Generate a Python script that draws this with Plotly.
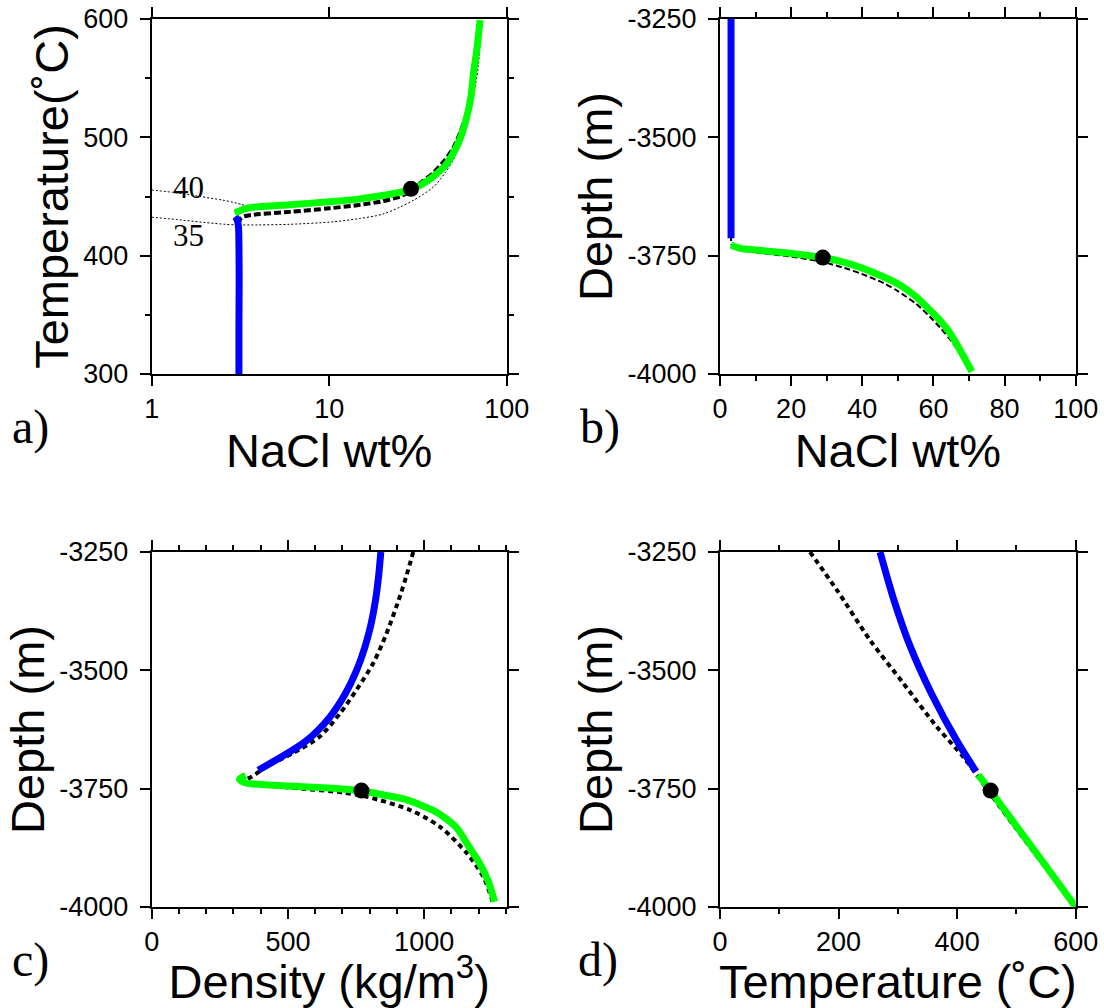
import plotly.graph_objects as go

# ---------------- data ----------------
# panel a: NaCl wt% (log) vs Temperature
a_blue_nacl = [3.10, 3.10, 3.11, 3.10, 3.08, 3.02, 2.95]
a_blue_temp = [300, 340, 380, 410, 425, 431, 433]
a_green_nacl = [2.94, 3.43, 6, 10, 15, 20.2, 25, 28.9, 33, 38.6, 45, 50, 55, 59.5, 63, 65, 68, 70.8]
a_green_temp = [436, 440, 443, 445.5, 448, 451, 453.5, 456, 460, 467, 476, 486.5, 500, 517, 535, 554, 575, 599]
a_dash_nacl = [3.1, 3.1, 3.1, 3.1, 3.2, 3.5, 6, 10, 15, 20, 25, 28.9, 33, 38.6, 45, 50, 55, 60, 65, 70]
a_dash_temp = [300, 350, 400, 428, 432, 434, 437, 440, 443, 446, 450, 455, 462, 470, 481, 491, 505, 522, 552, 598]
a_c40_nacl = [1.0, 1.4, 1.87, 2.5, 3.0, 3.43]
a_c40_temp = [455.5, 453, 450, 447, 444.5, 442]
a_c35_nacl = [1, 1.5, 2, 2.6, 3, 4, 6, 10.5, 15, 20, 25, 30, 38.6, 45, 50, 55, 59.5, 64, 69.2, 72]
a_c35_temp = [432.5, 430, 428, 426.5, 426, 426, 426.5, 428.6, 431.5, 435, 441, 447, 458, 470, 481, 494, 509, 530, 560, 598]
a_contour_labels = ["40", "35"]
a_x_ticks = [1, 10, 100]
a_y_ticks = [300, 400, 500, 600]

# panel b: NaCl wt% vs depth
b_blue_nacl = [3.1, 3.1, 3.1, 3.1]
b_blue_depth = [-3250, -3450, -3650, -3713]
b_green_nacl = [3.1, 5.6, 10, 16.9, 22, 28.9, 35, 40.3, 46, 50.6, 55, 59, 62, 64.7, 67.5, 70.8]
b_green_depth = [-3727.5, -3734.5, -3738, -3743, -3747, -3754, -3764, -3777, -3795, -3812, -3836, -3865, -3888, -3914, -3950, -3995]
b_dash_nacl = [3.1, 3.1, 3.1, 3.3, 6, 12, 20, 28, 35, 40, 46, 50, 55, 59, 62, 65, 68, 70.5]
b_dash_depth = [-3250, -3500, -3712, -3728, -3738, -3745, -3752, -3762, -3776, -3789, -3808, -3825, -3851, -3879, -3903, -3930, -3962, -3997]

# panel c: density vs depth
c_blue_density = [841, 833, 822, 806, 783, 752, 710, 652, 565, 391]
c_blue_depth = [-3250, -3300, -3350, -3400, -3450, -3500, -3550, -3600, -3650, -3711]
c_green_density = [345, 322, 345, 373, 483, 666, 770, 886, 935, 972, 1030, 1070, 1120, 1156, 1204, 1235, 1259]
c_green_depth = [-3722, -3730, -3738, -3740, -3744, -3749, -3755, -3767, -3773, -3781, -3795, -3809, -3833, -3865, -3908, -3945, -3989]
c_dash_density = [960, 935, 911, 862, 813, 752, 691, 617, 519, 422, 367, 340, 330, 400, 550, 700, 789, 948, 1057, 1156, 1217, 1255]
c_dash_depth = [-3250, -3300, -3344, -3422, -3485, -3541, -3591, -3640, -3675, -3703, -3725, -3732, -3735, -3742, -3750, -3758, -3767, -3795, -3830, -3886, -3936, -3995]

# panel d: temperature vs depth
d_dash_temp = [151.8, 197, 253, 309, 365.5, 410.5, 455.5, 500, 550, 600]
d_dash_depth = [-3250, -3330, -3436, -3527, -3619, -3683, -3760, -3835, -3918, -4000]
d_blue_temp = [270, 293, 321, 357, 400, 432]
d_blue_depth = [-3250, -3350, -3450, -3550, -3650, -3714]
d_green_temp = [435.7, 456.6, 500, 550, 600]
d_green_depth = [-3721, -3755, -3829, -3914, -4000]

depth_ticks = [-4000, -3750, -3500, -3250]

# marked state
dot_nacl = [28.9]
dot_temp = [456.5]
dot_depth = [-3754]
dot_density = [770]

panel_labels = ["a)", "b)", "c)", "d)"]

# ---------------- styling ----------------
BLUE = "#0000FF"
GREEN = "#00FF00"
SANS = "Liberation Sans"
SERIF = "Liberation Serif"
LW = 7

fig = go.Figure()

def line(x, y, xa, ya, color, width, dash="solid"):
    fig.add_trace(go.Scatter(x=x, y=y, xaxis=xa, yaxis=ya, mode="lines",
                             line=dict(color=color, width=width, dash=dash,
                                       shape="spline", smoothing=0.8),
                             showlegend=False, hoverinfo="skip"))

def dot(x, y, xa, ya):
    fig.add_trace(go.Scatter(x=x, y=y, xaxis=xa, yaxis=ya, mode="markers",
                             marker=dict(color="black", size=16),
                             showlegend=False, hoverinfo="skip"))

# panel a
line(a_c40_nacl, a_c40_temp, "x", "y", "black", 1, "2px,2px")
line(a_c35_nacl, a_c35_temp, "x", "y", "black", 1, "2px,2px")
line(a_dash_nacl, a_dash_temp, "x", "y", "black", 4, "7px,3px")
line(a_blue_nacl, a_blue_temp, "x", "y", BLUE, LW)
line(a_green_nacl, a_green_temp, "x", "y", GREEN, LW)
dot(dot_nacl, dot_temp, "x", "y")

# panel b
line(b_dash_nacl, b_dash_depth, "x2", "y2", "black", 2, "6px,3px")
line(b_blue_nacl, b_blue_depth, "x2", "y2", BLUE, LW)
line(b_green_nacl, b_green_depth, "x2", "y2", GREEN, LW)
dot(dot_nacl, dot_depth, "x2", "y2")

# panel c
line(c_dash_density, c_dash_depth, "x3", "y3", "black", 4, "5px,4px")
line(c_blue_density, c_blue_depth, "x3", "y3", BLUE, LW)
line(c_green_density, c_green_depth, "x3", "y3", GREEN, LW)
dot(dot_density, dot_depth, "x3", "y3")

# panel d
line(d_dash_temp, d_dash_depth, "x4", "y4", "black", 4, "5px,4px")
line(d_blue_temp, d_blue_depth, "x4", "y4", BLUE, LW)
line(d_green_temp, d_green_depth, "x4", "y4", GREEN, LW)
dot(dot_temp, dot_depth, "x4", "y4")

W, H = 1104, 1008
xl = [151.7 / W, 506.7 / W]
xr = [720 / W, 1075.7 / W]
yt = [1 - 374 / H, 1 - 19 / H]
yb = [1 - 907 / H, 1 - 552 / H]

tickfont = dict(family=SANS, size=27, color="black")
titlefont = dict(family=SANS, size=47, color="black")

def axis(domain, anchor, rng, title, standoff, lstand, dtick=None, minor=None, typ="linear", tickvals=None):
    d = dict(domain=domain, anchor=anchor, range=rng, type=typ, automargin=False,
             showline=True, linecolor="black", linewidth=2, mirror="allticks",
             ticks="outside", ticklen=10, tickwidth=1.5, tickcolor="black",
             showgrid=False, zeroline=False, tickfont=tickfont, ticklabelstandoff=lstand,
             title=dict(text=title, font=titlefont, standoff=standoff))
    if dtick is not None:
        d["dtick"] = dtick
        d["tick0"] = rng[0]
    if tickvals is not None:
        d["tickmode"] = "array"
        d["tickvals"] = tickvals
        d["ticktext"] = [str(v) for v in tickvals]
    if minor is not None:
        d["minor"] = dict(dtick=minor, ticks="outside", ticklen=5, tickwidth=1.5,
                          tickcolor="black", showgrid=False)
    return d

fig.update_layout(
    template="none",
    width=W, height=H, margin=dict(l=0, r=0, t=0, b=0),
    paper_bgcolor="white", plot_bgcolor="white",
    xaxis=axis(xl, "y", [0, 2], "NaCl wt%", 0, 0, typ="log", tickvals=a_x_ticks),
    yaxis=axis(yt, "x", [300, 600], "Temperature(˚C)", 0, 6, tickvals=a_y_ticks, minor=50),
    xaxis2=axis(xr, "y2", [0, 100], "NaCl wt%", 0, 0, dtick=20, minor=10),
    yaxis2=axis(yt, "x2", [-4000, -3250], "Depth (m)", 0, 6, tickvals=depth_ticks),
    xaxis3=axis(xl, "y3", [0, 1303], "Density (kg/m<sup>3</sup>)", 0, 0, dtick=500, minor=100),
    yaxis3=axis(yb, "x3", [-4000, -3250], "Depth (m)", 0, 6, tickvals=depth_ticks),
    xaxis4=axis(xr, "y4", [0, 600], "Temperature (˚C)", 0, 0, dtick=200, minor=100),
    yaxis4=axis(yb, "x4", [-4000, -3250], "Depth (m)", 0, 6, tickvals=depth_ticks),
)

# contour labels (panel a)
fig.add_annotation(x=0.21, y=458, xref="x", yref="y", text=a_contour_labels[0],
                   showarrow=False, font=dict(family=SERIF, size=31, color="black"))
fig.add_annotation(x=0.21, y=417, xref="x", yref="y", text=a_contour_labels[1],
                   showarrow=False, font=dict(family=SERIF, size=31, color="black"))

# panel labels
pos = [(30, 427), (600, 427), (30, 960), (598, 960)]
for lab, (px, py) in zip(panel_labels, pos):
    fig.add_annotation(x=px / W, y=1 - py / H, xref="paper", yref="paper", text=lab,
                       showarrow=False, font=dict(family=SERIF, size=48, color="black"),
                       xanchor="center", yanchor="middle")

fig.write_html("out.html")
